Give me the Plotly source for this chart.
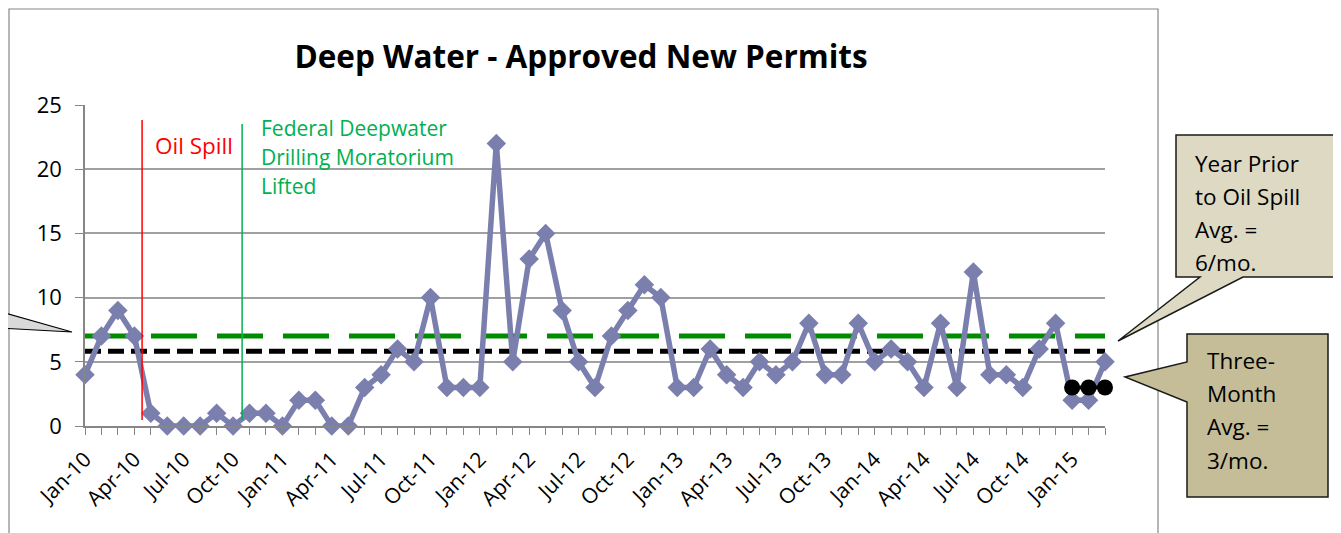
import plotly.graph_objects as go

# ---------------- data ----------------
permits = [4, 7, 9, 7, 1, 0, 0, 0, 1, 0, 1, 1, 0,
           2, 2, 0, 0, 3, 4, 6, 5, 10, 3, 3, 3,
           22, 5, 13, 15, 9, 5, 3, 7, 9, 11, 10,
           3, 3, 6, 4, 3, 5, 4, 5, 8, 4, 4, 8,
           5, 6, 5, 3, 8, 3, 12, 4, 4, 3, 6, 8,
           2, 2, 5]
months = list(range(len(permits)))            # 0 = Jan-10 ... 62 = Mar-15
tick_vals = list(range(0, len(permits), 3))
tick_labels = ["Jan-10", "Apr-10", "Jul-10", "Oct-10",
               "Jan-11", "Apr-11", "Jul-11", "Oct-11",
               "Jan-12", "Apr-12", "Jul-12", "Oct-12",
               "Jan-13", "Apr-13", "Jul-13", "Oct-13",
               "Jan-14", "Apr-14", "Jul-14", "Oct-14",
               "Jan-15"]
green_level = 7.0          # green long-dash reference line
year_prior_avg = 5.83      # year prior to oil spill average
three_month_x = [60, 61, 62]
three_month_avg = [3, 3, 3]
oil_spill_x = 3.47
moratorium_x = 9.55

FONT = "Open Sans"

# page geometry (browser body has an 8px margin)
OFF = 8
PAGE_W, PAGE_H = 1341, 533
W, H = PAGE_W - OFF, PAGE_H - OFF
# plot area in page pixels
L, R, T, B = 85, 1105, 105, 426


def px(x, y):
    return (x - L) / (R - L), (B - y) / (B - T)


def path(points):
    s = ""
    for i, (x, y) in enumerate(points):
        a, b = px(x, y)
        s += ("M" if i == 0 else "L") + f"{a:.5f},{b:.5f} "
    return s + "Z"


fig = go.Figure()

# reference lines
fig.add_trace(go.Scatter(x=[months[0], months[-1]], y=[green_level, green_level],
                         mode="lines", line=dict(color="#008c00", width=5, dash="46px,20px"),
                         showlegend=False, hoverinfo="skip", cliponaxis=False))
fig.add_trace(go.Scatter(x=[months[0], months[-1]], y=[year_prior_avg, year_prior_avg],
                         mode="lines", line=dict(color="#000000", width=5, dash="16px,7px"),
                         showlegend=False, hoverinfo="skip", cliponaxis=False))

# main series
fig.add_trace(go.Scatter(x=months, y=permits, mode="lines+markers",
                         line=dict(color="#7b7fae", width=5.5),
                         marker=dict(symbol="diamond", size=15, color="#7b7fae"),
                         showlegend=False, cliponaxis=False))

# three-month average
fig.add_trace(go.Scatter(x=three_month_x, y=three_month_avg, mode="lines+markers",
                         line=dict(color="#000000", width=4),
                         marker=dict(symbol="circle", size=16, color="#000000"),
                         showlegend=False, cliponaxis=False))

shapes = []
# event lines
shapes.append(dict(type="line", xref="x", yref="paper", x0=oil_spill_x, x1=oil_spill_x,
                   y0=px(0, 420)[1], y1=px(0, 120)[1], line=dict(color="#ff0000", width=1.5)))
shapes.append(dict(type="line", xref="x", yref="paper", x0=moratorium_x, x1=moratorium_x,
                   y0=px(0, 420)[1], y1=px(0, 124)[1], line=dict(color="#00b050", width=1.5)))
# chart border
x0b, y0b = px(9, 9)
x1b, y1b = px(1158, 545)
shapes.append(dict(type="rect", xref="paper", yref="paper", x0=x0b, y0=y1b, x1=x1b, y1=y0b,
                   line=dict(color="#868686", width=1.2), fillcolor="rgba(0,0,0,0)", layer="below"))
# callouts
shapes.append(dict(type="path", xref="paper", yref="paper",
                   path=path([(-20, 306), (72, 332), (-20, 327)]),
                   fillcolor="#d9d9d9", line=dict(color="#000000", width=1.2)))
shapes.append(dict(type="path", xref="paper", yref="paper",
                   path=path([(1176, 135), (1338, 135), (1338, 277), (1243, 277),
                              (1118, 341), (1200, 277), (1176, 277)]),
                   fillcolor="#ddd9c3", line=dict(color="#1a1a1a", width=1.5)))
shapes.append(dict(type="path", xref="paper", yref="paper",
                   path=path([(1187, 334), (1328, 334), (1328, 497), (1187, 497),
                              (1187, 402), (1125, 377), (1187, 362)]),
                   fillcolor="#c4bd97", line=dict(color="#1a1a1a", width=1.5)))

annotations = []


def add_text(text, x, y, size, color="#000000", anchor="left"):
    a, b = px(x, y)
    annotations.append(dict(text=text, xref="paper", yref="paper", x=a, y=b,
                            xanchor=anchor, yanchor="middle", showarrow=False,
                            font=dict(family=FONT, size=size, color=color)))


add_text("Oil Spill", 153, 145, 22.5, "#ff0000")
for i, t in enumerate(["Federal Deepwater", "Drilling Moratorium", "Lifted"]):
    add_text(t, 259, 128 + 29 * i, 21, "#00b050")
for i, t in enumerate(["Year Prior", "to Oil Spill", "Avg. =", "6/mo."]):
    add_text(t, 1193, 163 + 33.3 * i, 22.5)
for i, t in enumerate(["Three-", "Month", "Avg. =", "3/mo."]):
    add_text(t, 1205, 360 + 33.5 * i, 22.5)

fig.update_layout(
    width=W, height=H,
    margin=dict(l=L - OFF, r=PAGE_W - R, t=T - OFF, b=PAGE_H - B, pad=0),
    paper_bgcolor="white", plot_bgcolor="white",
    title=dict(text="<b>Deep Water - Approved New Permits</b>", xref="container",
               x=(581 - OFF) / W, xanchor="center", yref="container",
               y=1 - (57 - OFF) / H, yanchor="middle",
               font=dict(family=FONT, size=31.5, color="#000000")),
    font=dict(family=FONT, color="#000000"),
    shapes=shapes, annotations=annotations,
    xaxis=dict(range=[0, len(permits) - 1], tickvals=tick_vals, ticktext=tick_labels,
               tickangle=-45, tickfont=dict(size=21, family=FONT), ticks="outside",
               ticklen=7, tickcolor="#868686", showgrid=False, zeroline=False,
               showline=True, linecolor="#868686", linewidth=1.5, ticklabelstandoff=4,
               minor=dict(dtick=1, tick0=0, ticks="outside", ticklen=7, tickcolor="#868686",
                          showgrid=False)),
    yaxis=dict(range=[0, 25], dtick=5, tickfont=dict(size=22, family=FONT), ticks="outside",
               ticklen=8, tickcolor="#868686", showgrid=True, gridcolor="#a0a0a0",
               gridwidth=1.5, zeroline=False, showline=True, linecolor="#868686",
               linewidth=1.5, ticklabelstandoff=9),
)

fig.write_html("out.html")
